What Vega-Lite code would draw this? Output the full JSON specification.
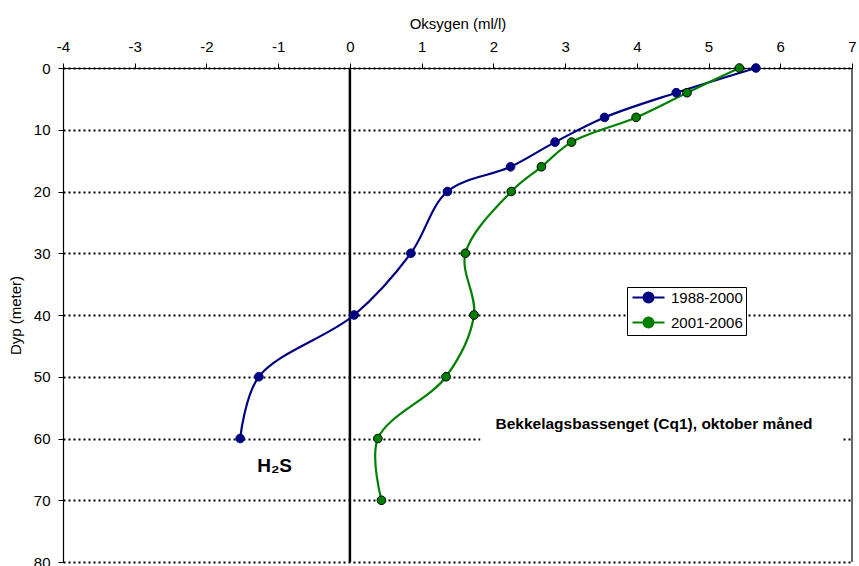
{
  "$schema": "https://vega.github.io/schema/vega-lite/v6.json",
  "autosize": {"type": "none"},
  "padding": {"left": 63, "top": 68, "right": 7, "bottom": 4},
  "width": 789,
  "height": 494,
  "background": "white",
  "config": {
    "view": {"stroke": null},
    "font": "Liberation Sans",
    "axis": {
      "labelFont": "Liberation Sans",
      "titleFont": "Liberation Sans",
      "labelFontSize": 15,
      "titleFontSize": 15,
      "titleFontWeight": "normal",
      "labelColor": "black",
      "titleColor": "black",
      "domainColor": "black",
      "tickColor": "black",
      "tickSize": 5,
      "domainWidth": 1.2,
      "tickWidth": 1
    }
  },
  "datasets": {
    "oxygen": [
      {"series": "1988-2000", "depth": 0, "oxygen": 5.66},
      {"series": "1988-2000", "depth": 4, "oxygen": 4.55},
      {"series": "1988-2000", "depth": 8, "oxygen": 3.55},
      {"series": "1988-2000", "depth": 12, "oxygen": 2.86},
      {"series": "1988-2000", "depth": 16, "oxygen": 2.24},
      {"series": "1988-2000", "depth": 20, "oxygen": 1.36},
      {"series": "1988-2000", "depth": 30, "oxygen": 0.85},
      {"series": "1988-2000", "depth": 40, "oxygen": 0.06},
      {"series": "1988-2000", "depth": 50, "oxygen": -1.27},
      {"series": "1988-2000", "depth": 60, "oxygen": -1.53},
      {"series": "2001-2006", "depth": 0, "oxygen": 5.43},
      {"series": "2001-2006", "depth": 4, "oxygen": 4.7},
      {"series": "2001-2006", "depth": 8, "oxygen": 3.99},
      {"series": "2001-2006", "depth": 12, "oxygen": 3.09},
      {"series": "2001-2006", "depth": 16, "oxygen": 2.67},
      {"series": "2001-2006", "depth": 20, "oxygen": 2.25},
      {"series": "2001-2006", "depth": 30, "oxygen": 1.61},
      {"series": "2001-2006", "depth": 40, "oxygen": 1.73},
      {"series": "2001-2006", "depth": 50, "oxygen": 1.34},
      {"series": "2001-2006", "depth": 60, "oxygen": 0.39},
      {"series": "2001-2006", "depth": 70, "oxygen": 0.44}
    ],
    "rules": [
      {"oxygen": 0, "kind": "zero"},
      {"oxygen": 7, "kind": "edge"}
    ],
    "box": [
      {"x1": 1.82, "x2": 6.86, "d1": 55, "d2": 61.5}
    ],
    "labels": [
      {"oxygen": 2.03, "depth": 57.6, "text": "Bekkelagsbassenget (Cq1), oktober måned"}
    ],
    "h2s": [
      {"oxygen": -1.05, "depth": 64.4, "text": "H₂S"}
    ]
  },
  "layer": [
    {
      "data": {"name": "rules"},
      "mark": {"type": "rule", "color": "black"},
      "encoding": {
        "x": {
          "field": "oxygen", "type": "quantitative",
          "scale": {"domain": [-4, 7], "nice": false, "zero": false},
          "axis": {
            "orient": "top", "title": "Oksygen (ml/l)", "values": [-4,-3,-2,-1,0,1,2,3,4,5,6,7],
            "labelExpr": "'' + datum.value",
            "grid": false, "labelPadding": 9, "titlePadding": 8, "labelFlush": false
          }
        },
        "strokeWidth": {
          "field": "kind", "type": "nominal",
          "scale": {"domain": ["zero", "edge"], "range": [2.5, 1.2]},
          "legend": null
        }
      }
    },
    {
      "data": {"name": "box"},
      "mark": {"type": "rect", "color": "white"},
      "encoding": {
        "x": {"field": "x1", "type": "quantitative"},
        "x2": {"field": "x2"},
        "y": {
          "field": "d1", "type": "quantitative",
          "scale": {"domain": [0, 80], "nice": false, "reverse": true},
          "axis": {
            "title": "Dyp (meter)", "values": [0,10,20,30,40,50,60,70,80],
            "grid": true, "gridColor": "black", "gridDash": [2, 3], "gridWidth": 2,
            "gridOpacity": 1,
            "labelPadding": 8, "titlePadding": 10, "labelFlush": false
          }
        },
        "y2": {"field": "d2"}
      }
    },
    {
      "data": {"name": "oxygen"},
      "mark": {"type": "line", "interpolate": "catmull-rom", "strokeWidth": 2.2},
      "encoding": {
        "x": {"field": "oxygen", "type": "quantitative"},
        "y": {"field": "depth", "type": "quantitative"},
        "order": {"field": "depth", "type": "quantitative"},
        "color": {
          "field": "series", "type": "nominal",
          "scale": {"domain": ["1988-2000", "2001-2006"], "range": ["#000080", "#008000"]},
          "legend": {
            "title": null,
            "orient": "none",
            "legendX": 564,
            "legendY": 219,
            "fillColor": "white",
            "strokeColor": "black",
            "padding": 3,
            "labelFontSize": 15,
            "labelFont": "Liberation Sans",
            "labelColor": "black",
            "labelOffset": 26,
            "rowPadding": 6,
            "symbolType": "M-1,0L1.2,0M3.2,0L5.4,0M1.2,0A1,1,0,1,0,3.2,0A1,1,0,1,0,1.2,0Z",
            "symbolSize": 100,
            "symbolStrokeWidth": 2,
            "encode": {
              "symbols": {
                "update": {
                  "fill": {"scale": "color", "field": "value"},
                  "stroke": {"scale": "color", "field": "value"},
                  "opacity": {"value": 1}
                }
              }
            }
          }
        }
      }
    },
    {
      "data": {"name": "oxygen"},
      "mark": {"type": "point", "filled": true, "size": 75, "opacity": 1, "strokeWidth": 1},
      "encoding": {
        "x": {"field": "oxygen", "type": "quantitative"},
        "y": {"field": "depth", "type": "quantitative"},
        "fill": {
          "field": "series", "type": "nominal",
          "scale": {"domain": ["1988-2000", "2001-2006"], "range": ["#000080", "#008000"]},
          "legend": null
        },
        "stroke": {
          "field": "series", "type": "nominal",
          "scale": {"domain": ["1988-2000", "2001-2006"], "range": ["#000080", "#000000"]},
          "legend": null
        }
      }
    },
    {
      "data": {"name": "labels"},
      "mark": {"type": "text", "align": "left", "baseline": "middle", "fontWeight": "bold", "fontSize": 15.5, "font": "Liberation Sans", "color": "black"},
      "encoding": {
        "x": {"field": "oxygen", "type": "quantitative"},
        "y": {"field": "depth", "type": "quantitative"},
        "text": {"field": "text"}
      }
    },
    {
      "data": {"name": "h2s"},
      "mark": {"type": "text", "align": "center", "baseline": "middle", "fontWeight": "bold", "fontSize": 19, "font": "Liberation Sans", "color": "black"},
      "encoding": {
        "x": {"field": "oxygen", "type": "quantitative"},
        "y": {"field": "depth", "type": "quantitative"},
        "text": {"field": "text"}
      }
    }
  ]
}
